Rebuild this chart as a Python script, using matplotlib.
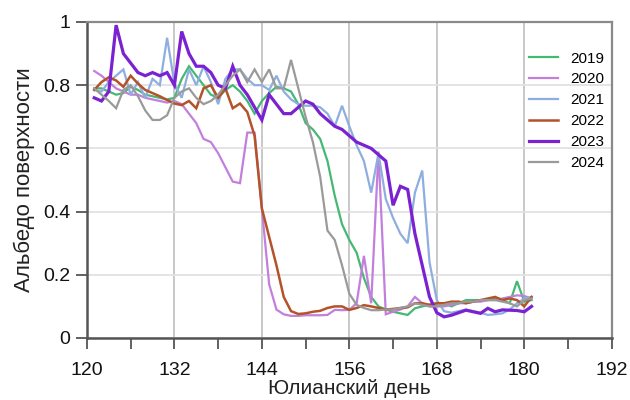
import numpy as np
import matplotlib
matplotlib.use("Agg")
import matplotlib.pyplot as plt
from matplotlib.ticker import MultipleLocator, FixedLocator, FixedFormatter

plt.rcParams['font.family'] = ['Liberation Sans', 'DejaVu Sans']

days = list(range(121, 182))

albedo_2019 = [0.79, 0.79, 0.78, 0.77, 0.775, 0.795, 0.785, 0.77, 0.765, 0.76,
               0.755, 0.76, 0.82, 0.86, 0.83, 0.80, 0.77, 0.76, 0.785, 0.80,
               0.78, 0.75, 0.71, 0.75, 0.775, 0.795, 0.79, 0.78, 0.74, 0.68,
               0.66, 0.63, 0.56, 0.45, 0.36, 0.31, 0.27, 0.19, 0.13, 0.10,
               0.09, 0.083, 0.078, 0.073, 0.094, 0.10, 0.105, 0.11, 0.11, 0.10,
               0.11, 0.12, 0.12, 0.12, 0.12, 0.125, 0.12, 0.11, 0.18, 0.115,
               0.12]
albedo_2020 = [0.845, 0.83, 0.81, 0.79, 0.78, 0.77, 0.77, 0.76, 0.755, 0.75,
               0.745, 0.75, 0.74, 0.71, 0.68, 0.63, 0.62, 0.585, 0.54, 0.495,
               0.49, 0.65, 0.65, 0.41, 0.17, 0.09, 0.075, 0.07, 0.07, 0.072,
               0.072, 0.072, 0.073, 0.089, 0.088, 0.089, 0.11, 0.26, 0.11, 0.59,
               0.075, 0.083, 0.09, 0.10, 0.13, 0.11, 0.10, 0.10, 0.10, 0.105,
               0.11, 0.11, 0.115, 0.115, 0.12, 0.12, 0.125, 0.13, 0.135, 0.133,
               0.125]
albedo_2021 = [0.785, 0.78, 0.81, 0.83, 0.85, 0.77, 0.81, 0.76, 0.82, 0.80,
               0.95, 0.805, 0.76, 0.85, 0.80, 0.86, 0.81, 0.74, 0.82, 0.85,
               0.85, 0.82, 0.80, 0.80, 0.785, 0.83, 0.78, 0.755, 0.74, 0.735,
               0.735, 0.73, 0.71, 0.67, 0.735, 0.67, 0.61, 0.56, 0.46, 0.585,
               0.44, 0.38, 0.33, 0.30, 0.46, 0.53, 0.24, 0.12, 0.085, 0.08,
               0.085, 0.09, 0.085, 0.08, 0.073, 0.075, 0.078, 0.09, 0.11, 0.125,
               0.13]
albedo_2022 = [0.785, 0.81, 0.825, 0.815, 0.795, 0.83, 0.805, 0.785, 0.775, 0.765,
               0.753, 0.742, 0.737, 0.75, 0.727, 0.79, 0.80, 0.76, 0.79, 0.727,
               0.742, 0.715, 0.64, 0.41, 0.32, 0.23, 0.13, 0.085, 0.076, 0.078,
               0.083, 0.086, 0.095, 0.10, 0.10, 0.089, 0.095, 0.104, 0.10, 0.095,
               0.09, 0.092, 0.095, 0.097, 0.11, 0.11, 0.105, 0.11, 0.11, 0.115,
               0.115, 0.11, 0.115, 0.12, 0.125, 0.13, 0.12, 0.125, 0.12, 0.10,
               0.13]
albedo_2023 = [0.76, 0.75, 0.78, 0.99, 0.90, 0.87, 0.84, 0.83, 0.84, 0.83,
               0.84, 0.80, 0.97, 0.90, 0.86, 0.86, 0.84, 0.80, 0.79, 0.86,
               0.80, 0.77, 0.73, 0.69, 0.77, 0.74, 0.71, 0.71, 0.73, 0.75,
               0.74, 0.71, 0.69, 0.67, 0.66, 0.64, 0.62, 0.61, 0.60, 0.58,
               0.56, 0.42, 0.48, 0.47, 0.33, 0.23, 0.13, 0.08, 0.067, 0.072,
               0.08, 0.088, 0.083, 0.078, 0.094, 0.083, 0.089, 0.088, 0.087, 0.083,
               0.10]
albedo_2024 = [0.79, 0.77, 0.75, 0.727, 0.785, 0.80, 0.765, 0.72, 0.69, 0.69,
               0.705, 0.76, 0.78, 0.79, 0.76, 0.74, 0.75, 0.77, 0.80, 0.83,
               0.85, 0.81, 0.85, 0.81, 0.85, 0.79, 0.79, 0.88, 0.79, 0.70,
               0.62, 0.51, 0.34, 0.31, 0.23, 0.14, 0.105, 0.095, 0.088, 0.088,
               0.09, 0.09, 0.095, 0.10, 0.11, 0.105, 0.10, 0.10, 0.105, 0.11,
               0.11, 0.115, 0.115, 0.12, 0.12, 0.12, 0.115, 0.11, 0.10, 0.12,
               0.125]

years = ['2019', '2020', '2021', '2022', '2023', '2024']
series = [albedo_2019, albedo_2020, albedo_2021, albedo_2022, albedo_2023, albedo_2024]
colors = ['#45b873', '#c27fdc', '#8eaee0', '#b4532a', '#7a22d2', '#9a9a9a']
widths = [1.6, 1.6, 1.6, 1.8, 2.3, 1.6]

x_ticks = [120, 132, 144, 156, 168, 180, 192]
y_ticks = [0, 0.2, 0.4, 0.6, 0.8, 1.0]
y_labels = ['0', '0.2', '0.4', '0.6', '0.8', '1']

fig = plt.figure(figsize=(6.3, 4.0), dpi=100)
ax = fig.add_axes([0.138, 0.155, 0.833, 0.79])

for yr, vals, c, lw in zip(years, series, colors, widths):
    ax.plot(days, vals, color=c, lw=lw, label=yr, solid_joinstyle='miter')

ax.set_xlim(120, 192)
ax.set_ylim(0, 1)
ax.xaxis.set_major_locator(FixedLocator(x_ticks))
ax.xaxis.set_minor_locator(MultipleLocator(6))
ax.yaxis.set_major_locator(FixedLocator(y_ticks))
ax.yaxis.set_major_formatter(FixedFormatter(y_labels))

ax.grid(axis='x', which='major', color='#c4c4c4', lw=1.3)
ax.grid(axis='y', which='major', color='#e2e2e2', lw=1.3)
ax.set_axisbelow(True)

for side in ('left', 'bottom'):
    ax.spines[side].set_color('#555555')
    ax.spines[side].set_linewidth(1.8)
for side in ('top', 'right'):
    ax.spines[side].set_color('#8a8a8a')
    ax.spines[side].set_linewidth(1.6)

ax.tick_params(axis='both', which='both', direction='out', length=8,
               width=1.3, color='#555555', labelsize=14, labelcolor='#111111')
ax.tick_params(axis='x', pad=9)
ax.tick_params(axis='y', pad=4)

ax.set_xlabel('Юлианский день', fontsize=15, color='#222222', labelpad=0)
ax.set_ylabel('Альбедо поверхности', fontsize=16, color='#222222', labelpad=6)

leg = ax.legend(loc='upper right', bbox_to_anchor=(1.012, 0.95), frameon=False,
                fontsize=11, handlelength=1.9, handletextpad=0.8,
                labelspacing=0.45)
for h, lw in zip(leg.get_lines(), widths):
    h.set_linewidth(lw)

fig.savefig('out.png', dpi=100)
